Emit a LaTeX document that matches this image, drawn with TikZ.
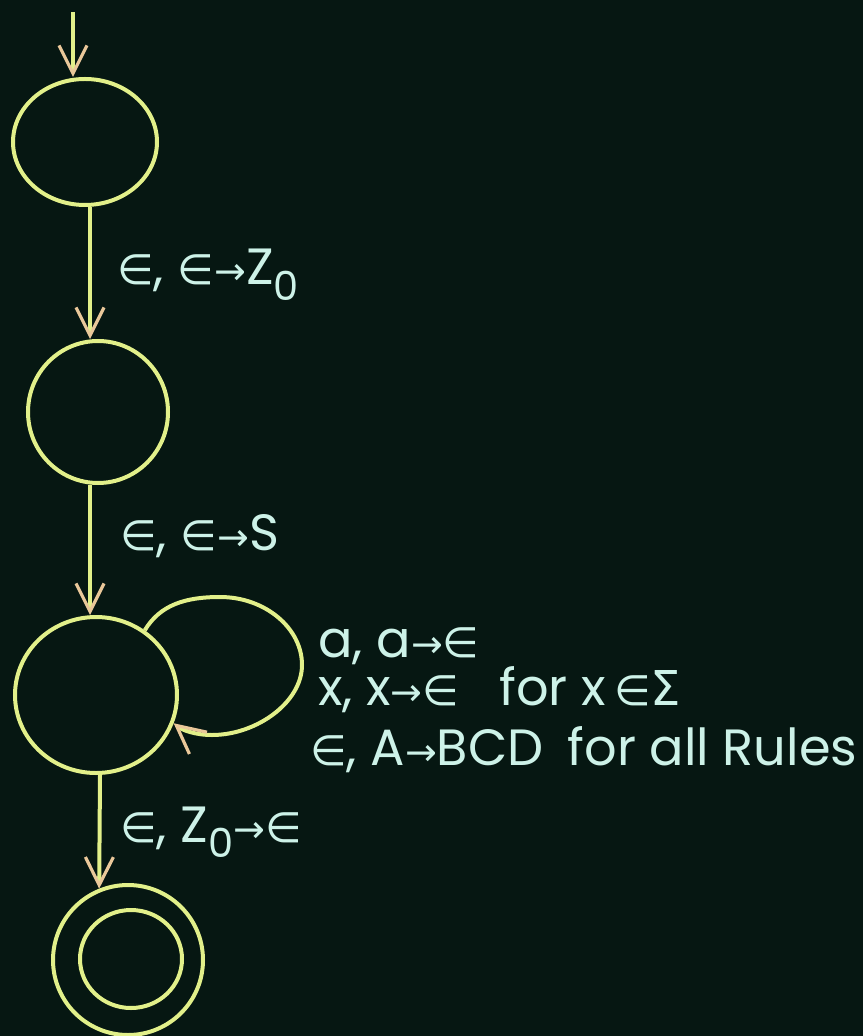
\documentclass[tikz,border=0pt]{standalone}
\usepackage{fontspec}
\setmainfont{Poppins}
\newfontfamily\symf{DejaVu Sans}
\usetikzlibrary{arrows.meta,shapes.geometric}
\definecolor{bg}{HTML}{061712}
\definecolor{ln}{HTML}{E2F08A}
\definecolor{tipc}{HTML}{EAC89A}
\definecolor{tx}{HTML}{CDF2E8}
\newcommand{\myin}{{\symf\fontsize{21}{21}\selectfont ∈}}
\newcommand{\myto}{{\symf\fontsize{19}{19}\selectfont →}}
\newcommand{\myZ}{Z\raisebox{-0.3em}{\fontsize{20}{20}\selectfont 0}}
\newcommand{\mySig}{{\symf\fontsize{24}{24}\selectfont Σ}}
\tikzset{
  stnode/.style={ellipse, draw=ln, line width=2pt, inner sep=0pt},
  tr/.style={draw=ln, line width=2pt, -{Straight Barb[length=14pt,width=14pt,color=tipc,line width=1.6pt]}},
  lbl/.style={text=tx, font=\fontsize{25.5}{30}\selectfont, inner sep=0pt, anchor=base west}
}
\begin{document}
\begin{tikzpicture}[x=0.5pt,y=-0.5pt]
\fill[bg] (0,0) rectangle (863,1036);
\useasboundingbox (0,0) rectangle (863,1036);
% states
\node[stnode, minimum width=72pt, minimum height=63pt] (s1) at (85,142) {};
\node[stnode, minimum width=70pt, minimum height=71pt] (s2) at (98,412) {};
\node[stnode, minimum width=81pt, minimum height=78pt] (s3) at (96,695) {};
\node[stnode, minimum width=75pt, minimum height=75pt] (s4) at (128,960) {};
\node[stnode, minimum width=51pt, minimum height=49pt] (s4i) at (131,959) {};
% helper coordinates
\coordinate (start) at (73,12);
\coordinate (xa) at (90,0);
\coordinate (xb) at (100,0);
% transitions
\draw[tr] (start) -- (start |- s1.north);
\draw[tr] (s1.south -| xa) -- (s2.north -| xa);
\draw[tr] (s2.south -| xa) -- (s3.north -| xa);
\draw[tr] (s3.south -| xb) -- (s4.112);
\draw[tr] (s3.53) .. controls (160,605) and (185,597) .. (220,597)
  .. controls (265,597) and (302,628) .. (302,665)
  .. controls (302,702) and (257,735) .. (212,735)
  .. controls (195,735) and (182,730) .. (s3.-20);
% labels
\node[lbl] (l1) at (117,285) {\myin, \myin\myto\myZ};
\node[lbl] (l2) at (120,550) {\myin, \myin\myto S};
\node[lbl] (l3a) at (318,657) {a, a\myto\myin};
\node[lbl] (l3b) at (318,705) {x, x\myto\myin\hspace{20pt}for x\,\myin\mySig};
\node[lbl] (l3c) at (310,765) {\myin, A\myto BCD\hspace{12pt}for all Rules};
\node[lbl] (l4) at (120,842) {\myin, \myZ\myto\myin};
\end{tikzpicture}
\end{document}
